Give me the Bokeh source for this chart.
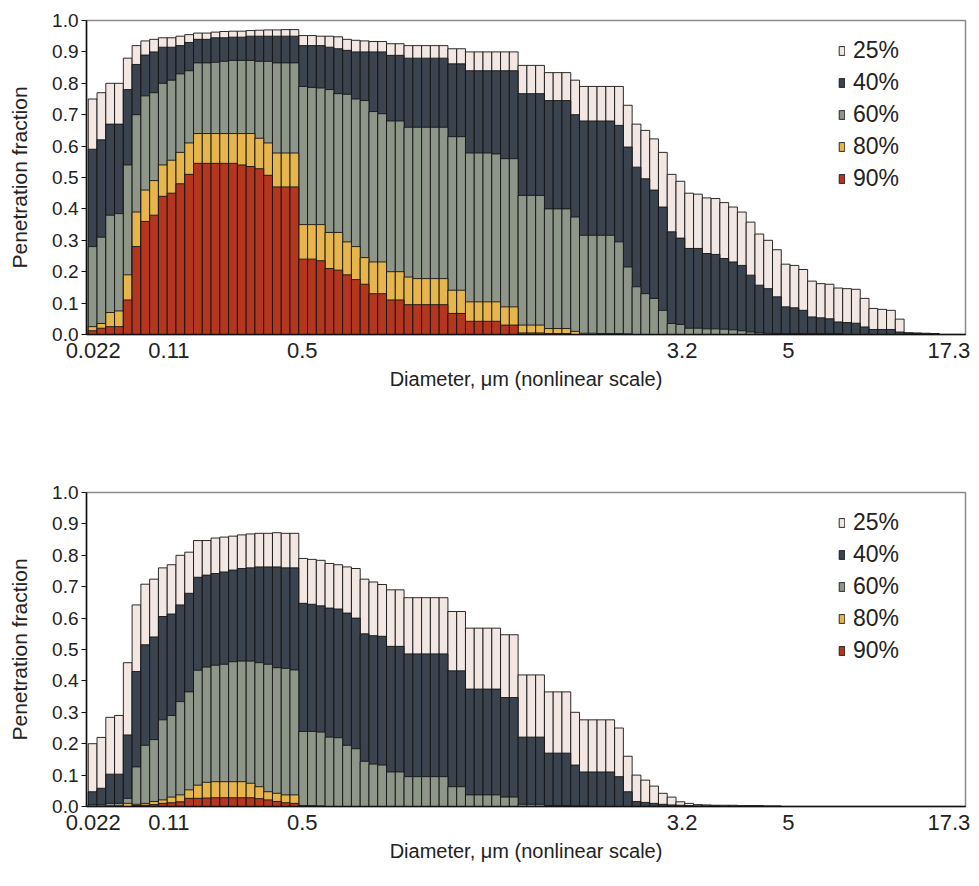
from bokeh.plotting import figure
from bokeh.layouts import column
from bokeh.models import Range1d, FixedTicker, PrintfTickFormatter, Legend, LegendItem
from bokeh.embed import file_html
from bokeh.resources import INLINE

# ---------------- data ----------------
series_names = ["25%", "40%", "60%", "80%", "90%"]
tick_labels = ["0.022", "0.11", "0.5", "3.2", "5", "17.3"]
tick_bins = [0.56, 9.2, 24.4, 67.7, 79.8, 98.1]   # bin position of each label

p1_25 = [0.75, 0.77, 0.80, 0.80, 0.88, 0.92, 0.935, 0.94, 0.945, 0.945,
         0.95, 0.955, 0.96, 0.96, 0.963, 0.965, 0.966, 0.966, 0.968, 0.969,
         0.97, 0.97, 0.971, 0.971, 0.952, 0.952, 0.95, 0.95, 0.948, 0.94,
         0.937, 0.935, 0.933, 0.933, 0.926, 0.926, 0.92, 0.92, 0.92, 0.92,
         0.92, 0.91, 0.91, 0.90, 0.90, 0.90, 0.90, 0.90, 0.90, 0.857,
         0.857, 0.857, 0.834, 0.834, 0.834, 0.81, 0.79, 0.79, 0.79, 0.79,
         0.79, 0.73, 0.67, 0.65, 0.623, 0.58, 0.51, 0.488, 0.45, 0.447,
         0.435, 0.433, 0.42, 0.406, 0.39, 0.358, 0.32, 0.30, 0.27, 0.224,
         0.22, 0.207, 0.17, 0.162, 0.16, 0.148, 0.146, 0.144, 0.115, 0.083,
         0.08, 0.077, 0.049, 0.006, 0.005, 0.004, 0.003, 0.0, 0.0, 0.0]
p1_40 = [0.59, 0.62, 0.67, 0.67, 0.78, 0.86, 0.89, 0.90, 0.915, 0.915,
         0.92, 0.93, 0.94, 0.94, 0.945, 0.945, 0.947, 0.947, 0.95, 0.95,
         0.95, 0.95, 0.95, 0.95, 0.92, 0.92, 0.92, 0.915, 0.91, 0.905,
         0.90, 0.90, 0.90, 0.90, 0.889, 0.889, 0.88, 0.88, 0.88, 0.88,
         0.88, 0.862, 0.862, 0.84, 0.84, 0.84, 0.84, 0.84, 0.84, 0.767,
         0.767, 0.767, 0.745, 0.745, 0.745, 0.70, 0.68, 0.68, 0.68, 0.68,
         0.666, 0.597, 0.533, 0.496, 0.46, 0.406, 0.327, 0.307, 0.274, 0.274,
         0.258, 0.255, 0.242, 0.231, 0.22, 0.189, 0.157, 0.146, 0.12, 0.088,
         0.085, 0.077, 0.056, 0.053, 0.05, 0.04, 0.038, 0.036, 0.024, 0.016,
         0.016, 0.016, 0.008, 0.003, 0.003, 0.002, 0.002, 0.0, 0.0, 0.0]
p1_60 = [0.28, 0.31, 0.38, 0.385, 0.54, 0.70, 0.76, 0.77, 0.80, 0.81,
         0.83, 0.84, 0.865, 0.865, 0.867, 0.87, 0.873, 0.873, 0.873, 0.87,
         0.87, 0.865, 0.865, 0.865, 0.79, 0.787, 0.785, 0.78, 0.767, 0.765,
         0.75, 0.745, 0.71, 0.703, 0.68, 0.68, 0.66, 0.66, 0.66, 0.66,
         0.66, 0.63, 0.63, 0.578, 0.578, 0.578, 0.575, 0.56, 0.56, 0.443,
         0.443, 0.443, 0.40, 0.40, 0.40, 0.374, 0.316, 0.316, 0.316, 0.316,
         0.295, 0.215, 0.152, 0.13, 0.115, 0.077, 0.035, 0.032, 0.02, 0.02,
         0.018, 0.018, 0.017, 0.015, 0.012, 0.008, 0.005, 0.004, 0.003, 0.003,
         0.003, 0.003, 0.003, 0.003, 0.003, 0.003, 0.0, 0.0, 0.0, 0.0,
         0.0, 0.0, 0.0, 0.0, 0.0, 0.0, 0.0, 0.0, 0.0, 0.0]
p1_80 = [0.025, 0.035, 0.07, 0.075, 0.19, 0.39, 0.46, 0.49, 0.54, 0.555,
         0.58, 0.61, 0.64, 0.64, 0.64, 0.64, 0.64, 0.64, 0.64, 0.625,
         0.61, 0.578, 0.578, 0.578, 0.35, 0.35, 0.35, 0.325, 0.325, 0.295,
         0.28, 0.245, 0.231, 0.231, 0.20, 0.20, 0.183, 0.178, 0.178, 0.178,
         0.178, 0.141, 0.141, 0.104, 0.104, 0.104, 0.104, 0.088, 0.088, 0.03,
         0.03, 0.03, 0.019, 0.019, 0.019, 0.01, 0.004, 0.004, 0.003, 0.003,
         0.003, 0.002, 0.0, 0.0, 0.0, 0.0, 0.0, 0.0, 0.0, 0.0,
         0.0, 0.0, 0.0, 0.0, 0.0, 0.0, 0.0, 0.0, 0.0, 0.0,
         0.0, 0.0, 0.0, 0.0, 0.0, 0.0, 0.0, 0.0, 0.0, 0.0,
         0.0, 0.0, 0.0, 0.0, 0.0, 0.0, 0.0, 0.0, 0.0, 0.0]
p1_90 = [0.012, 0.02, 0.025, 0.025, 0.11, 0.28, 0.36, 0.38, 0.44, 0.45,
         0.48, 0.51, 0.545, 0.545, 0.545, 0.545, 0.545, 0.54, 0.535, 0.528,
         0.507, 0.47, 0.47, 0.47, 0.24, 0.24, 0.235, 0.21, 0.205, 0.19,
         0.175, 0.16, 0.13, 0.13, 0.11, 0.11, 0.095, 0.095, 0.095, 0.095,
         0.095, 0.067, 0.067, 0.042, 0.042, 0.042, 0.042, 0.03, 0.03, 0.005,
         0.005, 0.005, 0.003, 0.003, 0.003, 0.0, 0.0, 0.0, 0.0, 0.0,
         0.0, 0.0, 0.0, 0.0, 0.0, 0.0, 0.0, 0.0, 0.0, 0.0,
         0.0, 0.0, 0.0, 0.0, 0.0, 0.0, 0.0, 0.0, 0.0, 0.0,
         0.0, 0.0, 0.0, 0.0, 0.0, 0.0, 0.0, 0.0, 0.0, 0.0,
         0.0, 0.0, 0.0, 0.0, 0.0, 0.0, 0.0, 0.0, 0.0, 0.0]

p2_25 = [0.20, 0.22, 0.284, 0.29, 0.458, 0.642, 0.708, 0.724, 0.76, 0.77,
         0.80, 0.81, 0.847, 0.847, 0.855, 0.858, 0.861, 0.865, 0.868, 0.87,
         0.87, 0.872, 0.87, 0.87, 0.79, 0.787, 0.784, 0.774, 0.77, 0.763,
         0.758, 0.724, 0.715, 0.707, 0.69, 0.69, 0.665, 0.665, 0.665, 0.665,
         0.665, 0.621, 0.621, 0.568, 0.568, 0.568, 0.568, 0.547, 0.547, 0.419,
         0.419, 0.419, 0.365, 0.365, 0.365, 0.30, 0.276, 0.276, 0.276, 0.276,
         0.25, 0.16, 0.10, 0.084, 0.065, 0.042, 0.03, 0.015, 0.01, 0.006,
         0.005, 0.004, 0.004, 0.004, 0.003, 0.003, 0.003, 0.002, 0.002, 0.0,
         0.0, 0.0, 0.0, 0.0, 0.0, 0.0, 0.0, 0.0, 0.0, 0.0,
         0.0, 0.0, 0.0, 0.0, 0.0, 0.0, 0.0, 0.0, 0.0, 0.0]
p2_40 = [0.047, 0.058, 0.103, 0.103, 0.228, 0.43, 0.515, 0.54, 0.605, 0.613,
         0.642, 0.679, 0.73, 0.737, 0.742, 0.747, 0.753, 0.758, 0.76, 0.763,
         0.763, 0.763, 0.76, 0.76, 0.647, 0.644, 0.639, 0.632, 0.629, 0.616,
         0.60, 0.55, 0.544, 0.542, 0.51, 0.51, 0.486, 0.486, 0.486, 0.486,
         0.486, 0.432, 0.432, 0.374, 0.374, 0.374, 0.374, 0.347, 0.347, 0.221,
         0.221, 0.221, 0.17, 0.17, 0.17, 0.132, 0.11, 0.11, 0.11, 0.11,
         0.095, 0.047, 0.016, 0.013, 0.01, 0.007, 0.005, 0.004, 0.003, 0.002,
         0.002, 0.002, 0.001, 0.001, 0.0, 0.0, 0.0, 0.0, 0.0, 0.0,
         0.0, 0.0, 0.0, 0.0, 0.0, 0.0, 0.0, 0.0, 0.0, 0.0,
         0.0, 0.0, 0.0, 0.0, 0.0, 0.0, 0.0, 0.0, 0.0, 0.0]
p2_60 = [0.005, 0.005, 0.01, 0.01, 0.026, 0.126, 0.195, 0.213, 0.276, 0.29,
         0.334, 0.365, 0.434, 0.444, 0.45, 0.453, 0.461, 0.463, 0.463, 0.458,
         0.453, 0.442, 0.44, 0.435, 0.239, 0.239, 0.237, 0.221, 0.219, 0.195,
         0.184, 0.144, 0.135, 0.132, 0.11, 0.11, 0.095, 0.095, 0.095, 0.095,
         0.095, 0.063, 0.063, 0.037, 0.037, 0.037, 0.037, 0.03, 0.03, 0.007,
         0.007, 0.007, 0.003, 0.003, 0.003, 0.002, 0.002, 0.0, 0.0, 0.0,
         0.0, 0.0, 0.0, 0.0, 0.0, 0.0, 0.0, 0.0, 0.0, 0.0,
         0.0, 0.0, 0.0, 0.0, 0.0, 0.0, 0.0, 0.0, 0.0, 0.0,
         0.0, 0.0, 0.0, 0.0, 0.0, 0.0, 0.0, 0.0, 0.0, 0.0,
         0.0, 0.0, 0.0, 0.0, 0.0, 0.0, 0.0, 0.0, 0.0, 0.0]
p2_80 = [0.0, 0.0, 0.002, 0.002, 0.01, 0.007, 0.01, 0.016, 0.021, 0.03,
         0.037, 0.053, 0.068, 0.077, 0.079, 0.079, 0.079, 0.079, 0.074, 0.063,
         0.047, 0.042, 0.037, 0.037, 0.003, 0.003, 0.002, 0.0, 0.0, 0.0,
         0.0, 0.0, 0.0, 0.0, 0.0, 0.0, 0.0, 0.0, 0.0, 0.0,
         0.0, 0.0, 0.0, 0.0, 0.0, 0.0, 0.0, 0.0, 0.0, 0.0,
         0.0, 0.0, 0.0, 0.0, 0.0, 0.0, 0.0, 0.0, 0.0, 0.0,
         0.0, 0.0, 0.0, 0.0, 0.0, 0.0, 0.0, 0.0, 0.0, 0.0,
         0.0, 0.0, 0.0, 0.0, 0.0, 0.0, 0.0, 0.0, 0.0, 0.0,
         0.0, 0.0, 0.0, 0.0, 0.0, 0.0, 0.0, 0.0, 0.0, 0.0,
         0.0, 0.0, 0.0, 0.0, 0.0, 0.0, 0.0, 0.0, 0.0, 0.0]
p2_90 = [0.0, 0.0, 0.0, 0.0, 0.0, 0.003, 0.004, 0.006, 0.01, 0.012,
         0.015, 0.026, 0.026, 0.027, 0.028, 0.028, 0.028, 0.028, 0.028, 0.025,
         0.021, 0.016, 0.012, 0.01, 0.0, 0.0, 0.0, 0.0, 0.0, 0.0,
         0.0, 0.0, 0.0, 0.0, 0.0, 0.0, 0.0, 0.0, 0.0, 0.0,
         0.0, 0.0, 0.0, 0.0, 0.0, 0.0, 0.0, 0.0, 0.0, 0.0,
         0.0, 0.0, 0.0, 0.0, 0.0, 0.0, 0.0, 0.0, 0.0, 0.0,
         0.0, 0.0, 0.0, 0.0, 0.0, 0.0, 0.0, 0.0, 0.0, 0.0,
         0.0, 0.0, 0.0, 0.0, 0.0, 0.0, 0.0, 0.0, 0.0, 0.0,
         0.0, 0.0, 0.0, 0.0, 0.0, 0.0, 0.0, 0.0, 0.0, 0.0,
         0.0, 0.0, 0.0, 0.0, 0.0, 0.0, 0.0, 0.0, 0.0, 0.0]

# ---------------- style ----------------
COLORS = ["#f2e7e3", "#3a434e", "#8d9688", "#e6b54c", "#b5361f"]
FONT = "Liberation Sans"
TEXT = "#222222"
FRAME_H = 314
BORDER_L = 86
BORDER_R = 6
FRAME_W = 879


def make_panel(series, border_top, border_bottom):
    n = len(series[0])
    xs = [i + 0.5 for i in range(n)]
    p = figure(width=BORDER_L + FRAME_W + BORDER_R,
               height=border_top + FRAME_H + border_bottom,
               x_range=Range1d(-0.2, n), y_range=Range1d(0, 1),
               output_backend="svg", toolbar_location=None,
               min_border_left=BORDER_L, min_border_right=BORDER_R,
               min_border_top=border_top, min_border_bottom=border_bottom)
    p.background_fill_color = "white"
    p.border_fill_color = "white"
    p.outline_line_color = "#8a8a8a"
    p.outline_line_width = 1.5
    p.xgrid.visible = False
    p.ygrid.visible = False

    items = []
    for name, vals, col in zip(series_names, series, COLORS):
        r = p.vbar(x=xs, top=vals, bottom=0, width=1.0,
                   fill_color=col, line_color="#141414", line_width=0.9)
        items.append(LegendItem(label=name, renderers=[r]))

    # y axis
    ya = p.yaxis[0]
    ya.ticker = FixedTicker(ticks=[i / 10 for i in range(11)])
    ya.formatter = PrintfTickFormatter(format="%.1f")
    ya.major_tick_out = 5
    ya.major_tick_in = 0
    ya.minor_tick_out = 0
    ya.minor_tick_in = 0
    ya.major_label_standoff = 3
    ya.axis_line_color = "#111111"
    ya.axis_line_width = 1.5
    ya.major_tick_line_color = "#111111"
    ya.major_label_text_font = FONT
    ya.major_label_text_font_size = "19px"
    ya.major_label_text_color = TEXT
    ya.axis_label = "Penetration fraction"
    ya.axis_label_text_font = FONT
    ya.axis_label_text_font_size = "21px"
    ya.axis_label_text_font_style = "normal"
    ya.axis_label_text_color = TEXT
    ya.axis_label_standoff = 18

    # x axis
    xa = p.xaxis[0]
    xa.ticker = FixedTicker(ticks=tick_bins)
    xa.major_label_overrides = {t: lab for t, lab in zip(tick_bins, tick_labels)}
    xa.major_tick_out = 0
    xa.major_tick_in = 0
    xa.minor_tick_out = 0
    xa.minor_tick_in = 0
    xa.major_label_standoff = 8
    xa.axis_line_color = "#111111"
    xa.axis_line_width = 1.5
    xa.major_label_text_font = FONT
    xa.major_label_text_font_size = "22px"
    xa.major_label_text_color = TEXT
    xa.axis_label = "Diameter, \u03bcm (nonlinear scale)"
    xa.axis_label_text_font = FONT
    xa.axis_label_text_font_size = "20px"
    xa.axis_label_text_font_style = "normal"
    xa.axis_label_text_color = TEXT
    xa.axis_label_standoff = 7

    legend = Legend(items=items, location=(752, 142),
                    label_text_font=FONT, label_text_font_size="23px",
                    label_text_color=TEXT, label_height=24,
                    glyph_width=7, glyph_height=11, label_standoff=8,
                    spacing=5, padding=0, margin=0,
                    border_line_color=None, background_fill_alpha=0)
    p.add_layout(legend)
    return p


p1 = make_panel([p1_25, p1_40, p1_60, p1_80, p1_90], 20, 88)
p2 = make_panel([p2_25, p2_40, p2_60, p2_80, p2_90], 70, 64)

layout = column(p1, p2, spacing=0)
open("out.html", "w").write(file_html(layout, INLINE))
